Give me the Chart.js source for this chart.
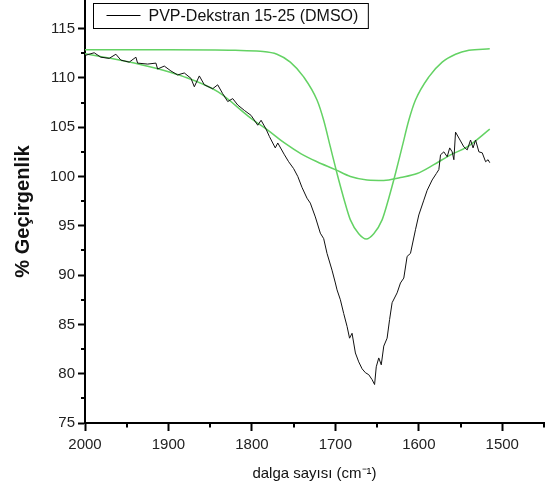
<!DOCTYPE html>
<html>
<head>
<meta charset="utf-8">
<title>PVP-Dekstran 15-25 (DMSO)</title>
<script src="https://cdn.jsdelivr.net/npm/chart.js@4.4.1/dist/chart.umd.min.js"></script>
<style>
  html, body { margin: 0; padding: 0; background: #fff; }
  #kutu { width: 548px; height: 491px; }
</style>
</head>
<body>
<div id="kutu"><canvas id="grafik" width="548" height="491"></canvas></div>
<script>
// veri
var seriName = "PVP-Dekstran 15-25 (DMSO)";

var olcumX = [1999, 1989, 1981, 1971, 1963, 1957, 1947, 1939, 1937, 1925, 1915, 1913, 1905, 1897, 1889, 1881,
  1873, 1869, 1863, 1857, 1847, 1841, 1835, 1829, 1823, 1817, 1809, 1801, 1793, 1789, 1783, 1779, 1772, 1769,
  1761, 1756, 1750, 1745, 1740, 1734, 1730, 1724, 1718, 1714, 1710, 1704, 1700, 1698, 1694, 1690, 1686, 1683,
  1680, 1676, 1672, 1668, 1664, 1660, 1656, 1653, 1651, 1648, 1645, 1642, 1638, 1635, 1632, 1626, 1622, 1618,
  1614, 1610, 1604, 1600, 1594, 1590, 1584, 1579, 1576, 1574, 1570, 1566, 1563, 1560, 1558, 1556, 1552, 1546,
  1542, 1538, 1535, 1532, 1528, 1524, 1520, 1517, 1515];
var olcumY = [112.3, 112.55, 112.1, 111.98, 112.4, 111.8, 111.6, 112.1, 111.5, 111.4, 111.5, 110.9, 111.2, 110.7, 110.3, 110.5,
  109.95, 109.1, 110.2, 109.3, 108.9, 109.3, 108.4, 107.6, 107.9, 107.25, 106.7, 106.2, 105.2, 105.7, 104.8, 104.05, 102.9, 103.4,
  102.2, 101.5, 100.8, 100.0, 98.9, 97.8, 97.3, 95.9, 94.25, 93.7, 92.2, 90.5, 89.2, 88.5, 87.5, 86.1, 84.8, 83.6,
  84.1, 82.1, 81.2, 80.5, 80.1, 79.9, 79.4, 78.9, 80.7, 81.6, 80.9, 82.8, 83.6, 85.5, 87.2, 88.2, 89.2, 89.7,
  91.9, 92.2, 94.6, 96.1, 97.6, 98.6, 99.65, 100.3, 100.7, 102.2, 102.5, 102.0, 102.9, 102.5, 101.7, 104.5, 103.9, 103.0,
  102.7, 103.7, 102.9, 103.7, 102.5, 102.4, 101.5, 101.7, 101.4];

var darX = [2000, 1900, 1820, 1790, 1770, 1754, 1738, 1722, 1714, 1706, 1698, 1690, 1682, 1672, 1663,
  1654, 1644, 1636, 1628, 1620, 1612, 1604, 1588, 1572, 1556, 1540, 1515];
var darY = [112.85, 112.85, 112.8, 112.7, 112.4, 111.6, 110.1, 107.75, 105.7, 103.0, 100.3, 97.8, 95.6, 94.2, 93.67,
  94.2, 95.6, 97.8, 100.3, 103.0, 105.7, 107.75, 110.1, 111.6, 112.4, 112.8, 112.95];

var genisX = [2000, 1941, 1881, 1841, 1801, 1781, 1761, 1741, 1722, 1700, 1682, 1662, 1642, 1622, 1602, 1582, 1562, 1542, 1515];
var genisY = [112.45, 111.5, 110.1, 108.6, 105.9, 104.7, 103.4, 102.3, 101.5, 100.7, 100.0, 99.65, 99.6, 99.9, 100.3, 101.2, 102.2, 103.0, 104.8];

var xEtiket = [2000, 1900, 1800, 1700, 1600, 1500];
var xAra = [1950, 1850, 1750, 1650, 1550, 1450];
var yEtiket = [75, 80, 85, 90, 95, 100, 105, 110, 115];
var yAra = [77.5, 82.5, 87.5, 92.5, 97.5, 102.5, 107.5, 112.5];

function noktalar(xs, ys) {
  return xs.map(function (x, i) { return { x: x, y: ys[i] }; });
}

var yesil = "rgb(100, 210, 100)";
var yazi = "'Liberation Sans', Arial, sans-serif";

// ara cizgiler (minor ticks)
var araCizgi = {
  id: "araCizgi",
  afterDraw: function (chart) {
    var ctx = chart.ctx, xs = chart.scales.x, ys = chart.scales.y;
    ctx.save();
    ctx.strokeStyle = "#000";
    ctx.lineWidth = 2;
    xAra.forEach(function (v) {
      var px = Math.round(xs.getPixelForValue(v));
      ctx.beginPath();
      ctx.moveTo(px, xs.top);
      ctx.lineTo(px, xs.top + 4.5);
      ctx.stroke();
    });
    yAra.forEach(function (v) {
      var py = Math.round(ys.getPixelForValue(v));
      ctx.beginPath();
      ctx.moveTo(ys.right, py);
      ctx.lineTo(ys.right - 4, py);
      ctx.stroke();
    });
    ctx.restore();
  }
};

// grafik icindeki kutulu aciklama
var kutuAciklama = {
  id: "kutuAciklama",
  afterDraw: function (chart) {
    var ctx = chart.ctx, a = chart.chartArea;
    var ds = chart.data.datasets[0];
    var x0 = a.left + 8.5, y0 = a.top + 3.5;
    ctx.save();
    ctx.font = "16px " + yazi;
    var w = ctx.measureText(ds.label).width;
    ctx.fillStyle = "#fff";
    ctx.fillRect(x0, y0, 65 + w, 25);
    ctx.strokeStyle = "#000";
    ctx.lineWidth = 1;
    ctx.strokeRect(x0, y0, 65 + w, 25);
    ctx.beginPath();
    ctx.moveTo(x0 + 13, y0 + 12);
    ctx.lineTo(x0 + 47, y0 + 12);
    ctx.stroke();
    ctx.fillStyle = "#111";
    ctx.textBaseline = "middle";
    ctx.fillText(ds.label, x0 + 55, y0 + 13);
    ctx.restore();
  }
};

var grafik = new Chart(document.getElementById("grafik").getContext("2d"), {
  type: "line",
  data: {
    datasets: [
      { label: seriName, data: noktalar(olcumX, olcumY), borderColor: "#111", borderWidth: 1, pointRadius: 0, tension: 0 },
      { label: "dar", data: noktalar(darX, darY), borderColor: yesil, borderWidth: 1.5, pointRadius: 0, cubicInterpolationMode: "monotone" },
      { label: "genis", data: noktalar(genisX, genisY), borderColor: yesil, borderWidth: 1.5, pointRadius: 0, cubicInterpolationMode: "monotone" }
    ]
  },
  options: {
    responsive: false,
    animation: false,
    devicePixelRatio: 1,
    layout: { padding: { top: 0, right: 4, left: 0, bottom: 0 } },
    plugins: { legend: { display: false }, tooltip: { enabled: false } },
    scales: {
      x: {
        type: "linear",
        reverse: true,
        min: 1450,
        max: 2000,
        afterBuildTicks: function (s) { s.ticks = xEtiket.map(function (v) { return { value: v }; }); },
        afterFit: function (s) { s.height = 68; s.paddingLeft = 0; s.paddingRight = 0; },
        grid: { drawOnChartArea: false, color: "#000", tickLength: 8, tickWidth: 2 },
        border: { color: "#000", width: 2 },
        ticks: { color: "#222", padding: 5, font: { family: yazi, size: 15 }, callback: function (v) { return String(v); } },
        title: { display: true, text: "dalga sayısı (cm⁻¹)", color: "#111", font: { family: yazi, size: 15 }, padding: { top: 0, bottom: 8 } }
      },
      y: {
        min: 75,
        max: 117.9,
        afterBuildTicks: function (s) { s.ticks = yEtiket.map(function (v) { return { value: v }; }); },
        afterFit: function (s) { s.width = 85; s.paddingTop = 0; s.paddingBottom = 0; },
        grid: { drawOnChartArea: false, color: "#000", tickLength: 7, tickWidth: 2 },
        border: { color: "#000", width: 2 },
        ticks: { color: "#222", padding: 3, font: { family: yazi, size: 15 } },
        title: { display: true, text: "% Geçirgenlik", color: "#111", font: { family: yazi, size: 20, weight: "bold" }, padding: { top: 11, bottom: 0 } }
      }
    }
  },
  plugins: [araCizgi, kutuAciklama]
});
</script>
</body>
</html>
